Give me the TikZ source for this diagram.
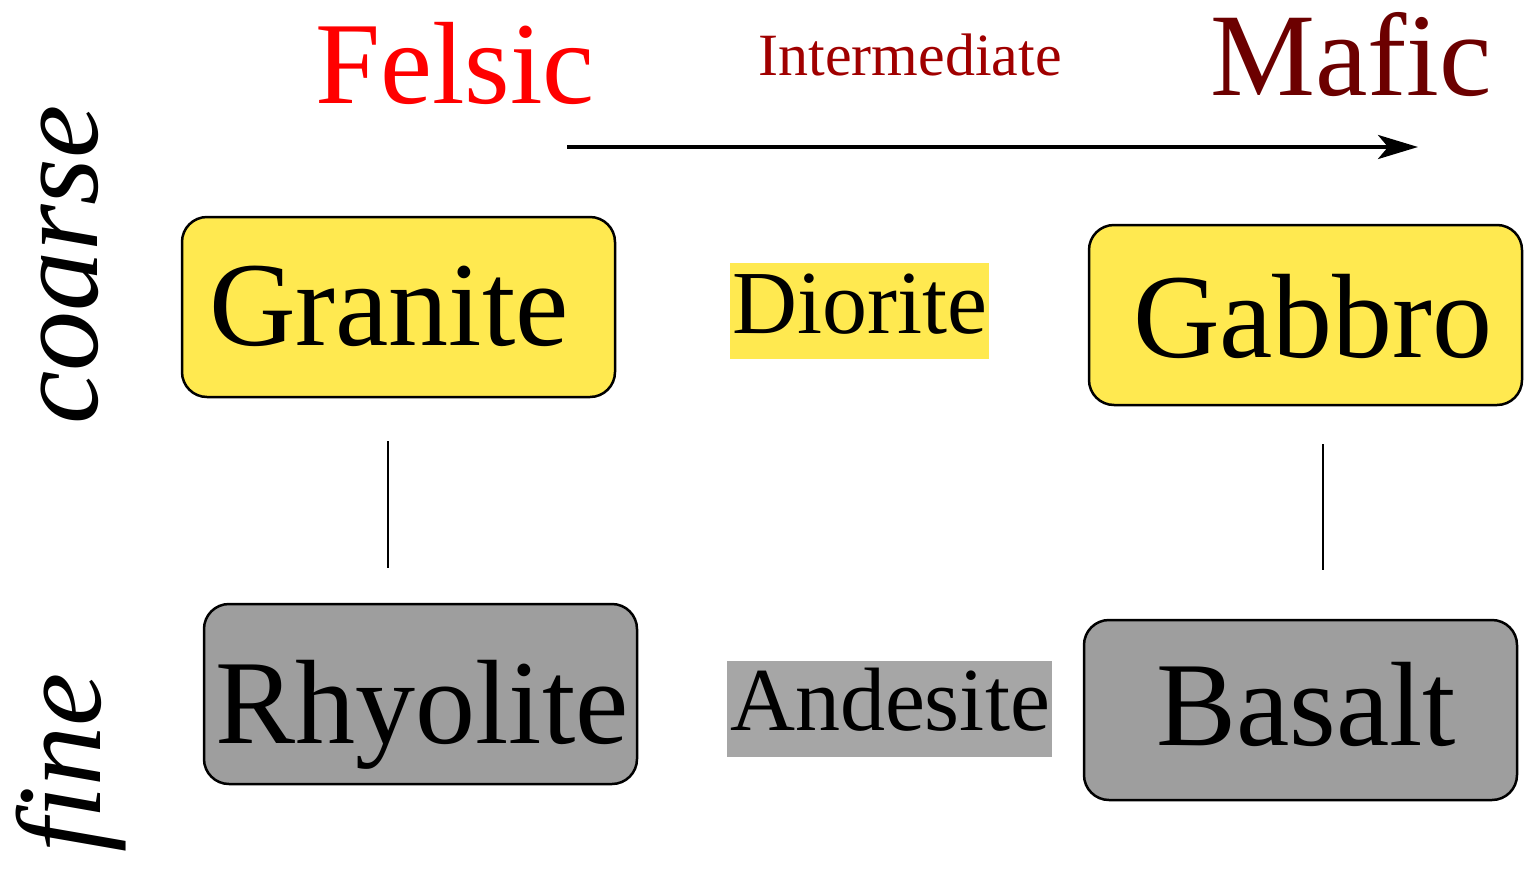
\documentclass[tikz,border=0pt]{standalone}
\usepackage{fontspec}
\setmainfont{Liberation Serif}[ItalicFont={Liberation Serif Italic},BoldFont={Liberation Serif Bold}]
\usetikzlibrary{arrows.meta}
\definecolor{boxyellow}{RGB}{255,233,80}
\definecolor{boxgray}{RGB}{158,158,158}
\definecolor{lightgray2}{RGB}{166,166,166}
\definecolor{felsicred}{RGB}{255,0,0}
\definecolor{interred}{RGB}{160,0,0}
\definecolor{maficred}{RGB}{108,0,0}
\tikzset{
  rockbox/.style={draw=black, line width=2.5pt, rounded corners=25pt, minimum width=433pt, minimum height=180pt, inner sep=0pt},
  flatbox/.style={inner sep=0pt, draw=none},
  bigtext/.style={inner sep=0pt, anchor=base, font=\fontsize{120}{140}\selectfont},
  midtext/.style={inner sep=0pt, anchor=base, font=\fontsize{90}{105}\selectfont},
  sidetext/.style={inner sep=0pt, anchor=base, rotate=90, font=\itshape\fontsize{120}{140}\selectfont},
  link/.style={line width=2pt},
}
\begin{document}
\begin{tikzpicture}[x=1pt,y=-1pt]
\useasboundingbox (0,0) rectangle (1524,868);
% boxes
\node[rockbox, fill=boxyellow] (granitebox) at (398.5,307) {};
\node[rockbox, fill=boxyellow] (gabbrobox) at (1305.5,315) {};
\node[rockbox, fill=boxgray] (rhyolitebox) at (420.5,694) {};
\node[rockbox, fill=boxgray] (basaltbox) at (1300.5,710) {};
\node[flatbox, fill=boxyellow, minimum width=259pt, minimum height=96pt] (dioritebox) at (859.5,311) {};
\node[flatbox, fill=lightgray2, minimum width=325pt, minimum height=96pt] (andesitebox) at (889.5,709) {};
% texts
\node[bigtext] (granite) at (389,345) {Granite};
\node[bigtext] (gabbro) at (1313,357) {Gabbro};
\node[bigtext] (rhyolite) at (422,743) {Rhyolite};
\node[bigtext] (basalt) at (1306,745) {Basalt};
\node[midtext] (diorite) at (860,333) {Diorite};
\node[midtext] (andesite) at (890,730) {Andesite};
\node[inner sep=0pt, anchor=base, text=felsicred, font=\fontsize{117}{135}\selectfont] (felsic) at (455,103) {Felsic};
\node[inner sep=0pt, anchor=base, text=interred, font=\fontsize{60}{70}\selectfont] (inter) at (910,75) {Intermediate};
\node[inner sep=0pt, anchor=base, text=maficred, font=\fontsize{118}{135}\selectfont] (mafic) at (1351,95) {Mafic};
\node[sidetext] (coarse) at (97,265) {coarse};
\node[sidetext] (fine) at (100,763) {fine};
% arrow
\coordinate (arrstart) at (567,147);
\coordinate (arrend) at (1418,147);
\draw[line width=4pt, -{Stealth[length=40pt,width=24pt,inset=10pt]}] (arrstart) -- (arrend);
% links
\coordinate (l1a) at (388,441);
\coordinate (l1b) at (388,568);
\coordinate (l2a) at (1323,444);
\coordinate (l2b) at (1323,570);
\draw[link] (l1a) -- (l1b);
\draw[link] (l2a) -- (l2b);
\end{tikzpicture}
\end{document}
